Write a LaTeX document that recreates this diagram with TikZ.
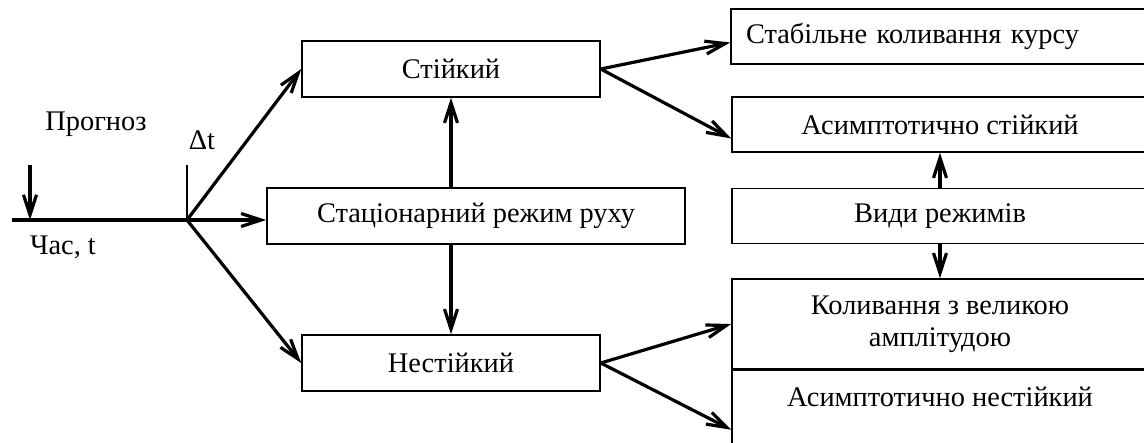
\documentclass[tikz,border=0pt]{standalone}
\usepackage{fontspec}
\setmainfont{Liberation Serif}
\usetikzlibrary{arrows.meta,positioning,calc}
\tikzset{
  %Define standard arrow tip
  >={Straight Barb[length=10pt,width=6.5pt]},
  %Define style for boxes
  blok/.style={
    rectangle,
    draw=black, line width=0.75pt,
    minimum height=28pt,
    inner sep=0pt,
    text centered},
  % Define arrow style
  strilka/.style={
    ->,
    line width=1.6pt}
}
\begin{document}
\begin{tikzpicture}[x=0.5pt,y=-0.5pt,font=\fontsize{14.2}{16}\selectfont]
  \useasboundingbox (0,0) rectangle (1144,443);
  % left column
  \node[blok,minimum width=149pt] (stable) at (451,69) {Стійкий};
  \node[blok,minimum width=209pt] (stationary) at (476,216) {Стаціонарний режим руху};
  \node[blok,minimum width=149pt] (unstable) at (451,363) {Нестійкий};
  % right column
  \node[blok,minimum width=208pt,minimum height=27.5pt,text width=194pt,inner xsep=7.5pt,align=left] (course) at (940,36.5) {Стабільне коливання курсу};
  \node[blok,minimum width=208pt,minimum height=27.5pt] (asstable) at (940,124.5) {Асимптотично стійкий};
  \node[blok,minimum width=208pt,minimum height=27.5pt] (modes) at (940,216) {Види режимів};
  \node[blok,minimum width=208pt,minimum height=45pt,align=center] (largeamp) at (940,324) {Коливання з великою\\амплітудою};
  \node[blok,minimum width=208pt,text height=18pt,text depth=25pt,anchor=north] (asunstable) at (largeamp.south) {Асимптотично нестійкий};
  % time axis
  \coordinate (fork) at (187,220);
  \coordinate (axis) at (12,220);
  \coordinate (tick) at (187,165);
  \coordinate (now) at (30,165);
  \node (forecast) at (96,124) {Прогноз};
  \node (delta) at (202,140) {Δt};
  \node (time) at (63,247) {Час, t};
  \draw[line width=1.6pt] (axis) -- (fork);
  \draw[line width=0.9pt] (tick) -- (fork);
  \draw[strilka] (now) -- (now |- fork);
  % connectors
  \draw[strilka] (fork) -- (stable.west);
  \draw[strilka] (fork) -- (fork -| stationary.west);
  \draw[strilka] (fork) -- (unstable.west);
  \draw[strilka] (stable.south |- stationary.north) -- (stable.south);
  \draw[strilka] (stable.south |- stationary.south) -- (unstable.north);
  \draw[strilka] (stable.east) -- ([yshift=-3pt]course.west);
  \draw[strilka] (stable.east) -- ([yshift=-7pt]asstable.west);
  \draw[strilka] (unstable.east) -- (largeamp.west);
  \draw[strilka] (unstable.east) -- ([yshift=-30pt]asunstable.north west);
  \draw[strilka] (modes.north) -- (asstable.south);
  \draw[strilka] (modes.south) -- (largeamp.north);
\end{tikzpicture}
\end{document}
